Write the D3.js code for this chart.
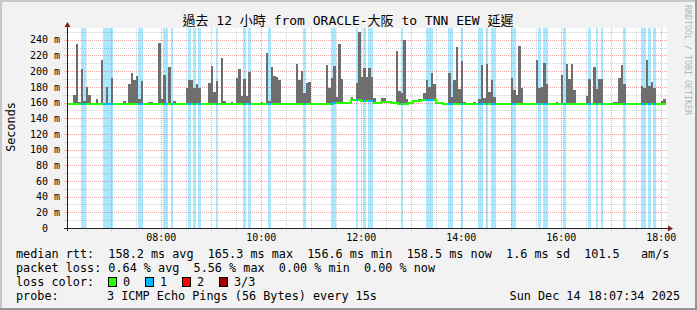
<!DOCTYPE html>
<html>
<head>
<meta charset="utf-8">
<script src="https://cdn.jsdelivr.net/npm/d3@7"></script>
<style>
  body { margin: 0; background: #f2f2f2; }
  svg text { font-family: "DejaVu Sans Mono", "Noto Sans CJK TC", monospace; white-space: pre; fill: #000; }
</style>
</head>
<body>
<svg id="chart" width="697" height="310"></svg>
<script>
// chart values
const title = "過去 12 小時 from ORACLE-大阪 to TNN EEW 延遲";

// smoke bars: 3 minute bins (start time) and their max rtt in ms
const smokeTimes = [
  "06:06","06:15","06:18","06:21","06:24","06:27","06:30","06:33","06:42","06:48",
  "06:54","07:00","07:15","07:21","07:24","07:27","07:30","07:33","07:36","07:45",
  "07:48","07:57","08:00","08:03","08:09","08:15","08:30","08:33","08:36","08:39",
  "08:42","08:45","08:57","09:00","09:03","09:06","09:12","09:15","09:24","09:30",
  "09:33","09:36","09:39","09:42","09:45","10:00","10:06","10:09","10:12","10:15",
  "10:18","10:21","10:42","10:45","10:48","10:51","10:54","10:57","11:18","11:21",
  "11:24","11:27","11:30","11:33","11:36","11:48","11:54","11:57","12:00","12:03",
  "12:06","12:09","12:12","12:15","12:24","12:27","12:42","12:45","12:48","12:51",
  "12:54","13:09","13:15","13:18","13:21","13:24","13:27","13:33","13:36","13:45",
  "13:48","13:51","13:54","13:57","14:00","14:03","14:15","14:21","14:24","14:27",
  "14:30","14:33","14:36","14:39","15:00","15:03","15:06","15:09","15:12","15:30",
  "15:33","15:36","15:39","15:42","15:54","16:00","16:06","16:09","16:12","16:15",
  "16:27","16:30","16:33","16:39","16:42","16:45","16:48","17:03","17:06","17:09",
  "17:12","17:15","17:36","17:39","17:42","17:45","17:48","17:51","18:00","18:03"];
const smokeMax = [
  166,170,234,161,203,162,180,169,165,214,
  180,191,162,184,198,189,194,165,188,161,
  161,236,165,195,205,162,179,189,189,179,
  184,179,185,207,174,188,217,162,161,191,
  203,168,190,168,199,161,223,162,205,194,
  193,189,209,189,200,172,185,186,208,179,
  191,207,167,235,190,167,185,250,193,204,
  193,204,193,166,166,166,226,175,172,240,
  165,165,172,189,180,197,183,161,161,198,
  167,189,231,177,213,161,161,164,208,166,
  209,174,189,167,191,176,170,232,179,214,
  179,180,210,183,161,195,209,190,209,176,
  160,168,190,205,177,190,190,161,161,191,
  208,183,181,179,214,181,186,179,162,165];

// bins where 1 of 3 pings was lost
const lossTimes = ["06:24","06:27","06:51","06:54","06:57","07:00","07:33","07:36","08:03","08:06",
  "08:12","08:33","08:39","08:45","09:06","09:39","09:45","10:09","10:51","11:24",
  "11:27","11:54","12:03","12:09","12:12","12:48","13:18","13:21","13:24","13:45",
  "13:48","14:00","14:21","14:24","14:30","14:36","14:39","15:00","15:03","15:33",
  "15:39","15:42","16:03","16:33","16:42","16:48","17:15","17:36","17:39","17:45","17:51"];

// median rtt, value holds from each time until the next one
const medianTimes = ["06:06","07:09","07:33","11:15","11:27","11:39","11:48","12:00","12:15",
  "12:24","12:36","12:45","12:57","13:03","13:12","13:30","13:39"];
const medianValues = [157.5,158.5,157.5,158,159.5,160,163,162,160,161,159.5,158,160,162,163.5,159.5,157.5];
const firstBin = "06:06", lastBin = "18:03";

const yTicks = [0,20,40,60,80,100,120,140,160,180,200,220,240];
const rttStats = ["158.2","165.3","156.6","158.5","1.6","101.5"];
const lossStats = ["0.64","5.56","0.00","0.00"];
const lossLabels = ["0","1","2","3/3"];
const lossColors = ["#26ff00","#00b8ff","#ff0000","#a00000"];
const probeText = "3 ICMP Echo Pings (56 Bytes) every 15s";
const stamp = "Sun Dec 14 18:07:34 2025";

// layout
const margin = {top: 28, left: 67};
const width = 600, height = 200;
const svg = d3.select("#chart");

const day = (h, m, s) => new Date(2025, 11, 14, h, m, s || 0);
const parse = s => { const p = s.split(":").map(Number); return day(p[0], p[1]); };
const step = 3;

const x = d3.scaleTime().domain([day(6,7,34), day(18,7,34)]).range([0, width]);
const y = d3.scaleLinear().domain([0, 255]).range([height, 0]);
const px = t => Math.round(x(t));

// frame
svg.append("rect").attr("width", 697).attr("height", 310).attr("fill", "#f2f2f2");
svg.append("path").attr("d", "M0,0H697V2H2V310H0Z").attr("fill", "#c8c8c8");
svg.append("path").attr("d", "M697,310H0V308H695V0H697Z").attr("fill", "#969696");

const g = svg.append("g").attr("transform", `translate(${margin.left},${margin.top})`);
g.append("rect").attr("width", width).attr("height", height).attr("fill", "#fff");

svg.append("defs").append("clipPath").attr("id", "clip")
  .append("rect").attr("width", width).attr("height", height);

// grid
const minorH = d3.range(10, 251, 20);
const majorH = yTicks.filter(v => v > 0);
const halfHours = d3.timeMinute.every(30).range(x.domain()[0], x.domain()[1]).filter(d => d.getMinutes() === 30);
const hours = d3.timeHour.every(1).range(x.domain()[0], x.domain()[1]);

function grid(axis, color) {
  const sel = g.append("g").attr("class", "grid").call(axis);
  sel.select(".domain").remove();
  sel.selectAll("text").remove();
  sel.selectAll("line").attr("stroke", color).attr("stroke-dasharray", "1,1")
    .attr("shape-rendering", "crispEdges");
  return sel;
}
const minorColor = "rgba(140,140,140,0.4)", majorColor = "rgba(220,40,40,0.42)";
grid(d3.axisLeft(y).tickValues(minorH).tickSize(-width), minorColor)
  .selectAll("line").attr("x1", -3);
grid(d3.axisLeft(y).tickValues(majorH).tickSize(-width), majorColor)
  .selectAll("line").attr("x1", -3);
grid(d3.axisBottom(x).tickValues(halfHours).tickSize(-height), minorColor)
  .attr("transform", `translate(0,${height})`).selectAll("line").attr("y1", 3);
grid(d3.axisBottom(x).tickValues(hours).tickSize(-height), majorColor)
  .attr("transform", `translate(0,${height})`).selectAll("line").attr("y1", 3);

// data layers
const plot = g.append("g").attr("clip-path", "url(#clip)").attr("shape-rendering", "crispEdges");
const addStep = d => d3.timeMinute.offset(d, step);

plot.selectAll("rect.loss").data(lossTimes.map(parse)).join("rect")
  .attr("class", "loss")
  .attr("x", d => px(d)).attr("width", d => px(addStep(d)) - px(d))
  .attr("y", 0).attr("height", height)
  .attr("fill", "#00b8ff").attr("fill-opacity", 0.33);

const medT = medianTimes.map(parse);
const medianAt = t => medianValues[Math.max(0, d3.bisectRight(medT, t) - 1)];

plot.selectAll("rect.smoke").data(smokeTimes.map((t, i) => ({t: parse(t), v: smokeMax[i]}))).join("rect")
  .attr("class", "smoke")
  .attr("x", d => px(d.t)).attr("width", d => px(addStep(d.t)) - px(d.t))
  .attr("y", d => Math.round(y(d.v))).attr("height", d => Math.round(y(medianAt(d.t))) - Math.round(y(d.v)))
  .attr("fill", "#6e6e6e");

const lossSet = new Set(lossTimes);
const bins = d3.timeMinute.every(step).range(parse(firstBin), addStep(parse(lastBin)));
const pts = [];
bins.forEach(t => {
  const key = d3.timeFormat("%H:%M")(t);
  const lvl = lossSet.has(key) ? 1 : 0;
  const v = medianAt(t);
  pts.push({t: t, v: v, lvl: lvl}, {t: addStep(t), v: v, lvl: lvl});
});
[0, 1].forEach(lvl => {
  plot.append("path")
    .attr("d", d3.line().defined(d => d.lvl === lvl).x(d => px(d.t)).y(d => Math.round(y(d.v)))(pts))
    .attr("fill", "none").attr("stroke", lossColors[lvl]).attr("stroke-width", 2);
});

// axes
const axisColor = "#222";
g.append("line").attr("x1", -3).attr("x2", width + 2).attr("y1", height + 0.5).attr("y2", height + 0.5).attr("stroke", axisColor);
g.append("line").attr("x1", 0.5).attr("x2", 0.5).attr("y1", height + 3).attr("y2", -2).attr("stroke", axisColor);
g.append("path").attr("d", `M${width + 1},${height - 2.5}L${width + 6},${height + 0.5}L${width + 1},${height + 3.5}Z`).attr("fill", "#7f1f1f");
g.append("path").attr("d", `M-2.5,-1L0.5,-6L3.5,-1Z`).attr("fill", "#7f1f1f");

const yAxis = g.append("g")
  .call(d3.axisLeft(y).tickValues(yTicks).tickSize(0).tickPadding(7)
    .tickFormat(v => v === 0 ? "0  " : v + " m"));
yAxis.select(".domain").remove();
yAxis.selectAll("text").attr("font-size", 10).attr("font-family", null).attr("xml:space", "preserve");

const xAxis = g.append("g").attr("transform", `translate(0,${height})`)
  .call(d3.axisBottom(x).ticks(d3.timeHour.every(2)).tickSize(0).tickPadding(6)
    .tickFormat(d3.timeFormat("%H:%M")));
xAxis.select(".domain").remove();
xAxis.selectAll("text").attr("font-size", 10).attr("font-family", null);

// titles
svg.append("text").attr("x", 348).attr("y", 25).attr("text-anchor", "middle")
  .attr("font-size", 13).text(title);
svg.append("text").attr("transform", "translate(15,127) rotate(-90)").attr("text-anchor", "middle")
  .attr("font-size", 11.8).text("Seconds");
svg.append("text").attr("transform", "translate(685,5) rotate(90)")
  .attr("font-size", 8.3).style("fill", "#b4b4b4").text("RRDTOOL / TOBI OETIKER");

// legend
const lg = svg.append("g").attr("font-size", 11.8);
const row = (yy, s) => lg.append("text").attr("x", 16).attr("y", yy).attr("xml:space", "preserve").text(s);
row(258, `median rtt:  ${rttStats[0]} ms avg  ${rttStats[1]} ms max  ${rttStats[2]} ms min  ${rttStats[3]} ms now  ${rttStats[4]} ms sd  ${rttStats[5]}   am/s`);
row(272, `packet loss: ${lossStats[0]} % avg  ${lossStats[1]} % max  ${lossStats[2]} % min  ${lossStats[3]} % now`);
row(286, "loss color:");
row(300, "probe:");
lg.append("text").attr("x", 107).attr("y", 300).attr("xml:space", "preserve").text(probeText);
lg.append("text").attr("x", 680).attr("y", 300).attr("text-anchor", "end").text(stamp);

const boxes = lg.selectAll("g.box").data(lossLabels).join("g")
  .attr("class", "box").attr("transform", (d, i) => `translate(${108 + i * 37},277)`);
boxes.append("rect").attr("x", 0.5).attr("y", 0.5).attr("width", 8).attr("height", 9)
  .attr("fill", (d, i) => lossColors[i]).attr("stroke", "#000");
boxes.append("text").attr("x", 15).attr("y", 9).text(d => d);
</script>
</body>
</html>
